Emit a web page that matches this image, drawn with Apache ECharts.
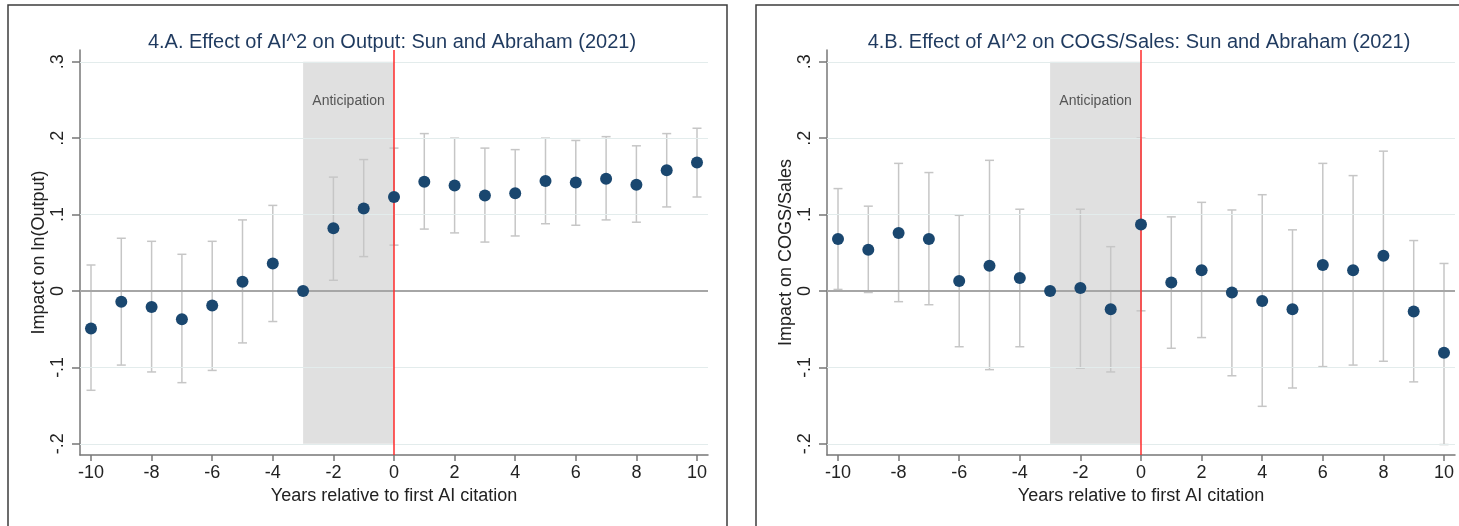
<!DOCTYPE html>
<html>
<head>
<meta charset="utf-8">
<title>Sun and Abraham (2021) event study</title>
<script src="https://cdn.jsdelivr.net/npm/echarts@6/dist/echarts.min.js"></script>
<style>
    html, body { margin: 0; padding: 0; background: #fff; }
    #main { width: 1459px; height: 526px; }
</style>
</head>
<body>
<div id="main"></div>
<script>
// event time
var years = [-10, -9, -8, -7, -6, -5, -4, -3, -2, -1, 0, 1, 2, 3, 4, 5, 6, 7, 8, 9, 10];

// 4.A output: point estimate and 95% CI (null = reference year)
var outputCoef = [-0.049, -0.014, -0.021, -0.037, -0.019, 0.012, 0.036, 0, 0.082, 0.108, 0.123,
    0.143, 0.138, 0.125, 0.128, 0.144, 0.142, 0.147, 0.139, 0.158, 0.168];
var outputLow = [-0.130, -0.097, -0.106, -0.120, -0.104, -0.068, -0.040, null, 0.014, 0.045, 0.060,
    0.081, 0.076, 0.064, 0.072, 0.088, 0.086, 0.093, 0.090, 0.110, 0.123];
var outputHigh = [0.034, 0.069, 0.065, 0.048, 0.065, 0.093, 0.112, null, 0.149, 0.172, 0.187,
    0.206, 0.200, 0.187, 0.185, 0.200, 0.197, 0.202, 0.190, 0.206, 0.213];

// 4.B COGS/Sales
var cogsCoef = [0.068, 0.054, 0.076, 0.068, 0.013, 0.033, 0.017, 0, 0.004, -0.024, 0.087,
    0.011, 0.027, -0.002, -0.013, -0.024, 0.034, 0.027, 0.046, -0.027, -0.081];
var cogsLow = [0.002, -0.002, -0.014, -0.018, -0.073, -0.103, -0.073, null, -0.101, -0.106, -0.026,
    -0.075, -0.061, -0.111, -0.151, -0.127, -0.099, -0.097, -0.092, -0.119, -0.201];
var cogsHigh = [0.134, 0.111, 0.167, 0.155, 0.099, 0.171, 0.107, null, 0.107, 0.058, 0.200,
    0.097, 0.116, 0.106, 0.126, 0.080, 0.167, 0.151, 0.183, 0.066, 0.036];

var xTicks = [-10, -8, -6, -4, -2, 0, 2, 4, 6, 8, 10];
var yTicks = [-0.2, -0.1, 0, 0.1, 0.2, 0.3];
var gridValues = [-0.2, -0.1, 0.1, 0.2, 0.3];
var anticipation = [-3, 0];

var panels = [
    {
        title: '4.A. Effect of AI^2 on Output: Sun and Abraham (2021)',
        yName: 'Impact on ln(Output)',
        coef: outputCoef, low: outputLow, high: outputHigh,
        left: 80, frameX: 8, frameW: 719
    },
    {
        title: '4.B. Effect of AI^2 on COGS/Sales: Sun and Abraham (2021)',
        yName: 'Impact on COGS/Sales',
        coef: cogsCoef, low: cogsLow, high: cogsHigh,
        left: 827, frameX: 756, frameW: 800
    }
];

var plotW = 628, plotTop = 50, plotH = 405;
var font = 'Liberation Sans, Arial, Helvetica, sans-serif';

function yLabel(v) {
    if (Math.abs(v) < 1e-9) return '0';
    var s = Math.abs(v).toFixed(1).replace(/^0/, '');
    return (v < 0 ? '-' : '') + s;
}

// vertical CI bar with small caps
function renderErrorBar(params, api) {
    var x = api.value(0);
    var top = api.coord([x, api.value(2)]);
    var bot = api.coord([x, api.value(1)]);
    var w = 4.5;
    var style = { stroke: '#c6c6c6', lineWidth: 1.5 };
    return {
        type: 'group',
        children: [
            { type: 'line', shape: { x1: top[0], y1: top[1], x2: bot[0], y2: bot[1] }, style: style },
            { type: 'line', shape: { x1: top[0] - w, y1: top[1], x2: top[0] + w, y2: top[1] }, style: style },
            { type: 'line', shape: { x1: bot[0] - w, y1: bot[1], x2: bot[0] + w, y2: bot[1] }, style: style }
        ]
    };
}

var option = {
    animation: false,
    backgroundColor: '#fff',
    title: [],
    grid: [],
    xAxis: [],
    yAxis: [],
    series: [],
    graphic: []
};

panels.forEach(function (p, i) {
    option.graphic.push({
        type: 'rect',
        shape: { x: p.frameX, y: 5, width: p.frameW, height: 600 },
        style: { fill: 'none', stroke: '#3c3c3c', lineWidth: 1.5 },
        silent: true
    });

    option.title.push({
        text: p.title,
        left: p.left + plotW / 2 - 7,
        top: 27,
        textAlign: 'center',
        textStyle: { color: '#1f3a5f', fontSize: 20, fontWeight: 'normal', fontFamily: font }
    });

    option.grid.push({ left: p.left, top: plotTop, width: plotW, height: plotH });

    option.xAxis.push({
        type: 'value',
        gridIndex: i,
        min: -10.363,
        max: 10.363,
        name: 'Years relative to first AI citation',
        nameLocation: 'middle',
        nameGap: 30,
        nameTextStyle: { color: '#222', fontSize: 18, fontFamily: font },
        axisLine: { show: true, onZero: false, lineStyle: { color: '#777', width: 1.5 } },
        axisTick: { show: true, length: 6, customValues: xTicks, lineStyle: { color: '#777', width: 1.5 } },
        axisLabel: { customValues: xTicks, margin: 9, color: '#222', fontSize: 18, fontFamily: font },
        splitLine: { show: false }
    });

    option.yAxis.push({
        type: 'value',
        gridIndex: i,
        min: -0.2147,
        max: 0.3154,
        name: p.yName,
        nameLocation: 'middle',
        nameRotate: 90,
        nameGap: 31,
        nameTextStyle: { color: '#222', fontSize: 18, fontFamily: font },
        axisLine: { show: true, onZero: false, lineStyle: { color: '#777', width: 1.5 } },
        axisTick: { show: true, length: 8, customValues: yTicks, lineStyle: { color: '#777', width: 1.5 } },
        axisLabel: {
            customValues: yTicks, rotate: 90, margin: 13,
            color: '#222', fontSize: 18, fontFamily: font,
            formatter: yLabel
        },
        splitLine: { show: false }
    });

    // light gridlines
    option.series.push({
        type: 'scatter', xAxisIndex: i, yAxisIndex: i, data: [], z: 1, silent: true,
        markLine: {
            silent: true, symbol: 'none', label: { show: false },
            lineStyle: { color: '#e3ecec', width: 1, type: 'solid' },
            data: gridValues.map(function (v) { return { yAxis: v }; })
        }
    });

    // anticipation window
    option.series.push({
        type: 'scatter', xAxisIndex: i, yAxisIndex: i, data: [], z: 2, silent: true,
        markArea: {
            silent: true,
            itemStyle: { color: '#e0e0e0' },
            label: {
                show: true, position: 'insideTop', distance: 32,
                color: '#555', fontSize: 14, fontFamily: font
            },
            data: [[
                { name: 'Anticipation', coord: [anticipation[0], 0.3] },
                { coord: [anticipation[1], -0.2] }
            ]]
        }
    });

    // zero line and treatment line
    option.series.push({
        type: 'scatter', xAxisIndex: i, yAxisIndex: i, data: [], z: 3, silent: true,
        markLine: {
            silent: true, symbol: 'none', label: { show: false },
            data: [
                { yAxis: 0, lineStyle: { color: '#a6a6a6', width: 2, type: 'solid' } },
                { xAxis: 0, lineStyle: { color: '#ff2b2b', width: 1.5, type: 'solid' } }
            ]
        }
    });

    var bars = [];
    years.forEach(function (y, k) {
        if (p.low[k] !== null) bars.push([y, p.low[k], p.high[k]]);
    });
    option.series.push({
        type: 'custom', xAxisIndex: i, yAxisIndex: i, z: 4, silent: true,
        renderItem: renderErrorBar,
        encode: { x: 0, y: [1, 2] },
        data: bars
    });

    option.series.push({
        type: 'scatter', xAxisIndex: i, yAxisIndex: i, z: 5, silent: true,
        symbol: 'circle', symbolSize: 12,
        itemStyle: { color: '#1a476f', opacity: 1 },
        data: years.map(function (y, k) { return [y, p.coef[k]]; })
    });
});

var chart = echarts.init(document.getElementById('main'), null, { renderer: 'canvas' });
chart.setOption(option);
</script>
</body>
</html>
